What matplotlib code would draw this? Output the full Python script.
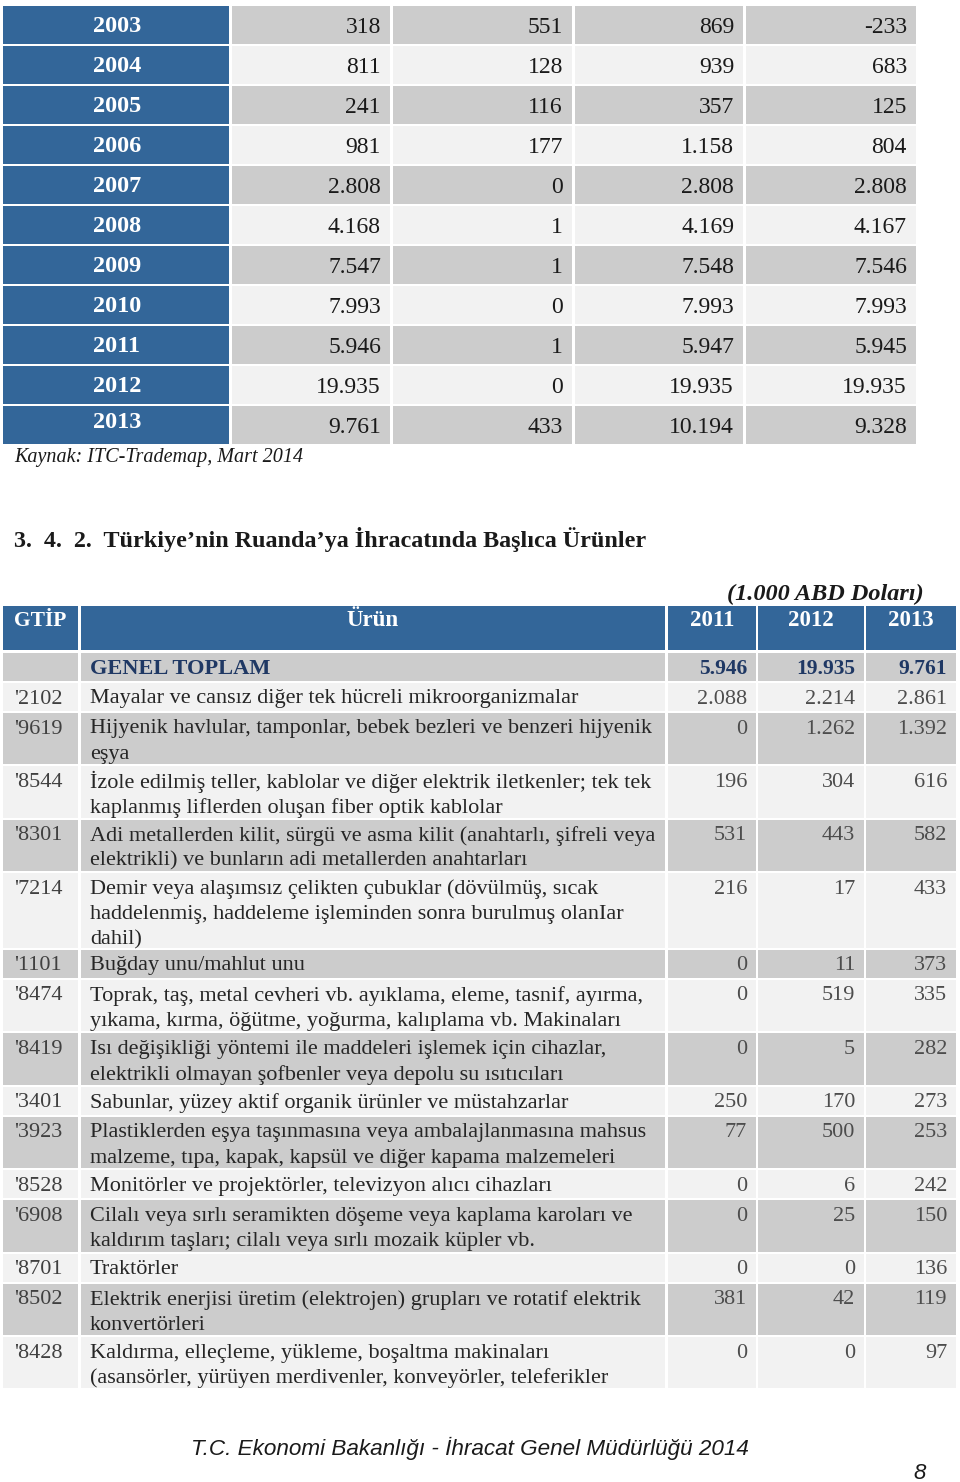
import matplotlib
matplotlib.use('Agg')
import matplotlib.pyplot as plt
from matplotlib.patches import Rectangle

# ---------------- data ----------------
top_years = ['2003', '2004', '2005', '2006', '2007', '2008', '2009', '2010', '2011', '2012', '2013']
top_export = [318, 811, 241, 981, 2808, 4168, 7547, 7993, 5946, 19935, 9761]
top_import = [551, 128, 116, 177, 0, 1, 1, 0, 1, 0, 433]
top_volume = [869, 939, 357, 1158, 2808, 4169, 7548, 7993, 5947, 19935, 10194]
top_balance = [-233, 683, 125, 804, 2808, 4167, 7546, 7993, 5945, 19935, 9328]

source_note = 'Kaynak: ITC-Trademap, Mart 2014'
section_title = '3.  4.  2.  Türkiye’nin Ruanda’ya İhracatında Başlıca Ürünler'
unit_note = '(1.000 ABD Doları)'
header_labels = ['GTİP', 'Ürün', '2011', '2012', '2013']

total_label = 'GENEL TOPLAM'
total_values = [5946, 19935, 9761]

gtip_codes = ["'2102", "'9619", "'8544", "'8301", "'7214", "'1101", "'8474", "'8419",
              "'3401", "'3923", "'8528", "'6908", "'8701", "'8502", "'8428"]
products = [
    "Mayalar ve cansız diğer tek hücreli mikroorganizmalar",
    "Hijyenik havlular, tamponlar, bebek bezleri ve benzeri hijyenik\neşya",
    "İzole edilmiş teller, kablolar ve diğer elektrik iletkenler; tek tek\nkaplanmış liflerden oluşan fiber optik kablolar",
    "Adi metallerden kilit, sürgü ve asma kilit (anahtarlı, şifreli veya\nelektrikli) ve bunların adi metallerden anahtarları",
    "Demir veya alaşımsız çelikten çubuklar (dövülmüş, sıcak\nhaddelenmiş, haddeleme işleminden sonra burulmuş olanIar\ndahil)",
    "Buğday unu/mahlut unu",
    "Toprak, taş, metal cevheri vb. ayıklama, eleme, tasnif, ayırma,\nyıkama, kırma, öğütme, yoğurma, kalıplama vb. Makinaları",
    "Isı değişikliği yöntemi ile maddeleri işlemek için cihazlar,\nelektrikli olmayan şofbenler veya depolu su ısıtıcıları",
    "Sabunlar, yüzey aktif organik ürünler ve müstahzarlar",
    "Plastiklerden eşya taşınmasına veya ambalajlanmasına mahsus\nmalzeme, tıpa, kapak, kapsül ve diğer kapama malzemeleri",
    "Monitörler ve projektörler, televizyon alıcı cihazları",
    "Cilalı veya sırlı seramikten döşeme veya kaplama karoları ve\nkaldırım taşları; cilalı veya sırlı mozaik küpler vb.",
    "Traktörler",
    "Elektrik enerjisi üretim (elektrojen) grupları ve rotatif elektrik\nkonvertörleri",
    "Kaldırma, elleçleme, yükleme, boşaltma makinaları\n(asansörler, yürüyen merdivenler, konveyörler, teleferikler",
]
val_2011 = [2088, 0, 196, 531, 216, 0, 0, 0, 250, 77, 0, 0, 0, 381, 0]
val_2012 = [2214, 1262, 304, 443, 17, 11, 519, 5, 170, 500, 6, 25, 0, 42, 0]
val_2013 = [2861, 1392, 616, 582, 433, 373, 335, 282, 273, 253, 242, 150, 136, 119, 97]

footer_text = 'T.C. Ekonomi Bakanlığı - İhracat Genel Müdürlüğü 2014'
page_number = '8'


def fmt(v):
    s = f"{abs(v):,}".replace(",", ".")
    return ("-" if v < 0 else "") + s


# ---------------- style ----------------
BLUE = '#336699'
GRAY = '#cccccc'
LIGHT = '#f2f2f2'
NAVY = '#1f3864'
SERIF = ['Liberation Serif', 'DejaVu Serif']
NARROW = ['Liberation Sans Narrow', 'Liberation Sans', 'DejaVu Sans']

fig = plt.figure(figsize=(9.6, 14.82), dpi=100)
ax = fig.add_axes([0, 0, 1, 1])
ax.set_xlim(0, 960)
ax.set_ylim(1482, 0)
ax.axis('off')


def cell(x0, x1, y0, y1, color):
    ax.add_patch(Rectangle((x0, y0), x1 - x0, y1 - y0, facecolor=color,
                           edgecolor='none', zorder=1))


# ---------------- top table ----------------
top_cols = [(3, 229), (232, 390), (393, 572), (575, 743), (746, 916)]
row0, pitch, rh = 6, 40, 38
for i, yr in enumerate(top_years):
    y0 = row0 + i * pitch
    y1 = y0 + rh
    yc = (y0 + y1) / 2
    fill = GRAY if i % 2 == 0 else LIGHT
    cell(*top_cols[0], y0, y1, BLUE)
    ydy = -4 if i == len(top_years) - 1 else 0
    ax.text((top_cols[0][0] + top_cols[0][1]) / 2 + 1, yc - 1 + ydy, yr, color='white',
            fontsize=17.5, fontweight='bold', family=SERIF, ha='center',
            va='center_baseline', zorder=3)
    vals = [top_export[i], top_import[i], top_volume[i], top_balance[i]]
    for j, v in enumerate(vals):
        x0, x1 = top_cols[j + 1]
        cell(x0, x1, y0, y1, fill)
        ax.text(x1 - 9, yc, fmt(v), color='#1a1a1a', fontsize=17,
                family=SERIF, ha='right', va='center_baseline', zorder=3)

ax.text(14, 455, source_note, fontsize=14.5, style='italic', family=SERIF,
        color='#1a1a1a', ha='left', va='center_baseline')

ax.text(14, 536.5, section_title, fontsize=17.4, fontweight='bold', family=SERIF,
        color='#1a1a1a', ha='left', va='center_baseline')

ax.text(924, 592, unit_note, fontsize=17.5, fontweight='bold', style='italic',
        family=SERIF, color='#1a1a1a', ha='right', va='center_baseline', zorder=4)

# ---------------- second table ----------------
cols = [(3, 78), (81, 665), (668, 756), (758, 864), (866, 956)]
hy0, hy1 = 606, 650
for k, (x0, x1) in enumerate(cols):
    cell(x0, x1, hy0, hy1, BLUE)
ax.text(14, 618, header_labels[0], color='white', fontsize=15.5, fontweight='bold',
        family=SERIF, ha='left', va='center_baseline', zorder=3)
for k in range(1, 5):
    x0, x1 = cols[k]
    ax.text((x0 + x1) / 2, 618, header_labels[k], color='white', fontsize=16.5,
            fontweight='bold', family=SERIF, ha='center', va='center_baseline', zorder=3)

GAP = 2.0
LINE = 25.4
FS = 16


def row_height(n):
    return 4.6 + 23.4 * n


# total row
y = 653.0
h = row_height(1)
for (x0, x1) in cols:
    cell(x0, x1, y, y + h, GRAY)
ax.text(90, y + 13.5, total_label, color=NAVY, fontsize=16.1, fontweight='bold',
        family=SERIF, ha='left', va='center_baseline', zorder=3)
for j, v in enumerate(total_values):
    x1 = cols[j + 2][1]
    ax.text(x1 - 9, y + 13.5, fmt(v), color=NAVY, fontsize=15.5, fontweight='bold',
            family=SERIF, ha='right', va='center_baseline', zorder=3)
y += h + GAP

for i, code in enumerate(gtip_codes):
    lines = products[i].split('\n')
    h = row_height(len(lines))
    fill = LIGHT if i % 2 == 0 else GRAY
    for (x0, x1) in cols:
        cell(x0, x1, y, y + h, fill)
    ty = y + 13.5
    ax.text(14, ty, code, color='#404040', fontsize=FS, family=SERIF,
            ha='left', va='center_baseline', zorder=3)
    for li, ln in enumerate(lines):
        ax.text(90, ty + li * LINE, ln, color='#262626', fontsize=FS, family=SERIF,
                ha='left', va='center_baseline', zorder=3)
    for j, v in enumerate([val_2011[i], val_2012[i], val_2013[i]]):
        x1 = cols[j + 2][1]
        ax.text(x1 - 9, ty, fmt(v), color='#4d4d4d', fontsize=FS, family=SERIF,
                ha='right', va='center_baseline', zorder=3)
    y += h + GAP

# ---------------- footer ----------------
ax.text(470, 1446, footer_text, fontsize=16.2, style='italic', family=NARROW,
        color='#1a1a1a', ha='center', va='center_baseline')
ax.text(920, 1471, page_number, fontsize=16, style='italic', family=NARROW,
        color='#1a1a1a', ha='center', va='center_baseline')

fig.savefig('out.png', dpi=100, facecolor='white')
